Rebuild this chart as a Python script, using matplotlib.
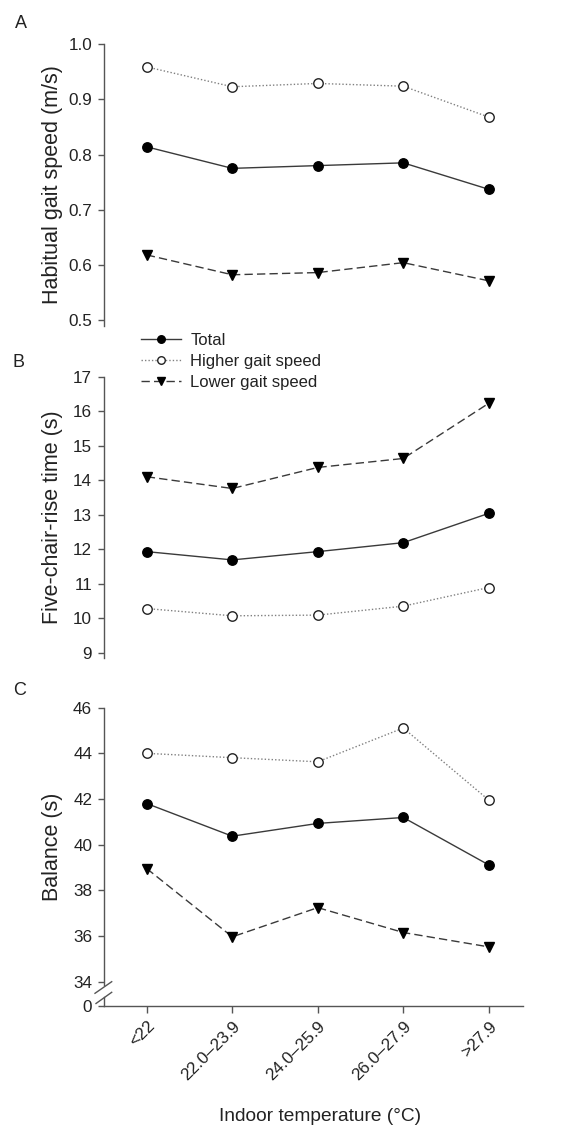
import matplotlib
matplotlib.use("Agg")
import matplotlib.pyplot as plt
from matplotlib.lines import Line2D

plt.rcParams['font.family'] = ['Liberation Sans', 'DejaVu Sans']

categories = ['<22', '22.0\u201323.9', '24.0\u201325.9', '26.0\u201327.9', '>27.9']
series_names = ['Total', 'Higher gait speed', 'Lower gait speed']

gait_total = [0.814, 0.775, 0.780, 0.785, 0.737]
gait_higher = [0.959, 0.923, 0.929, 0.924, 0.868]
gait_lower = [0.618, 0.582, 0.586, 0.604, 0.571]

chair_total = [11.93, 11.69, 11.93, 12.19, 13.04]
chair_higher = [10.28, 10.07, 10.09, 10.35, 10.89]
chair_lower = [14.10, 13.76, 14.37, 14.63, 16.23]

bal_total = [41.80, 40.37, 40.93, 41.19, 39.11]
bal_higher = [44.00, 43.81, 43.63, 45.11, 41.95]
bal_lower = [38.95, 35.96, 37.24, 36.15, 35.52]

gait_ticks = [0.5, 0.6, 0.7, 0.8, 0.9, 1.0]
chair_ticks = [9, 10, 11, 12, 13, 14, 15, 16, 17]
bal_ticks = [34, 36, 38, 40, 42, 44, 46]

W, H = 587, 1126
fig = plt.figure(figsize=(W / 100, H / 100), dpi=100)

def fx(px):
    return px / W

def fy(py):
    return 1 - py / H

left_px, right_px = 104, 523
ax_w = fx(right_px - left_px)

def make_ax(top_px, bot_px):
    return fig.add_axes([fx(left_px), fy(bot_px), ax_w, (bot_px - top_px) / H])

axA = make_ax(44.3, 325.5)
axB = make_ax(376.7, 657.9)
axC = make_ax(707.7, 985.0)
axC0 = make_ax(997.0, 1006.0)

spine_col = '#555555'
line_col = '#3a3a3a'
dot_col = '#808080'
text_col = '#222222'
x = list(range(len(categories)))

styles = [
    dict(color=line_col, lw=1.0, ls='-', marker='o', ms=6.8, mfc='black', mec='black'),
    dict(color=dot_col, lw=1.0, ls=(0, (1, 1.5)), marker='o', ms=6.8, mfc='white', mec='#222222', mew=1.0),
    dict(color=line_col, lw=1.0, ls=(0, (6, 3)), marker='v', ms=6.8, mfc='black', mec='black'),
]

def style_ax(ax, ticks, ylim, ylabel, fmt=None):
    for s in ['top', 'right', 'bottom']:
        ax.spines[s].set_visible(False)
    ax.spines['left'].set_color(spine_col)
    ax.spines['left'].set_linewidth(1.0)
    ax.set_xlim(-0.5, 4.4)
    ax.set_ylim(*ylim)
    ax.set_yticks(ticks)
    if fmt:
        ax.set_yticklabels([fmt.format(t) for t in ticks])
    ax.set_xticks([])
    ax.tick_params(axis='y', direction='out', length=4, width=1.0, color=spine_col,
                   labelsize=12.3, labelcolor=text_col, pad=4.5)
    ax.set_ylabel(ylabel, fontsize=15.5, color=text_col)
    ax.yaxis.set_label_coords(-0.098, 0.5)
    ax.patch.set_alpha(0)

for ax, data in [(axA, (gait_total, gait_higher, gait_lower)),
                 (axB, (chair_total, chair_higher, chair_lower)),
                 (axC, (bal_total, bal_higher, bal_lower))]:
    for vals, st, name in zip(data, styles, series_names):
        ax.plot(x, vals, label=name, clip_on=False, **st)

style_ax(axA, gait_ticks, (0.49, 1.0), 'Habitual gait speed (m/s)', '{:.1f}')
style_ax(axB, chair_ticks, (8.85, 17), 'Five-chair-rise time (s)')
style_ax(axC, bal_ticks, (33.85, 46), 'Balance (s)')

# bottom broken segment with zero
for s in ['top', 'right']:
    axC0.spines[s].set_visible(False)
for s in ['left', 'bottom']:
    axC0.spines[s].set_color(spine_col)
    axC0.spines[s].set_linewidth(1.0)
axC0.set_xlim(-0.5, 4.4)
axC0.set_ylim(0, 1)
axC0.set_yticks([0])
axC0.set_yticklabels(['0'])
axC0.set_xticks(x)
axC0.set_xticklabels(categories, rotation=45, ha='right', va='top', rotation_mode='anchor')
axC0.tick_params(axis='y', direction='out', length=4, width=1.0, color=spine_col,
                 labelsize=12.3, labelcolor=text_col, pad=4.5)
axC0.tick_params(axis='x', direction='out', length=5, width=1.0, color=spine_col,
                 labelsize=12.3, labelcolor=text_col, pad=4)
axC0.patch.set_alpha(0)

# axis break marks
for (x0, y0, x1, y1) in [(95, 993.3, 111.7, 981.7), (96, 1003.5, 111.7, 992.3)]:
    fig.add_artist(Line2D([fx(x0), fx(x1)], [fy(y0), fy(y1)], color=spine_col, lw=1.0))

# panel letters
for lab, px, py in [('A', 15, 28), ('B', 12, 367), ('C', 13, 695)]:
    fig.text(fx(px), fy(py), lab, fontsize=13, color=text_col, ha='left', va='baseline')

fig.text(fx(320), fy(1121), 'Indoor temperature (\u00b0C)', fontsize=13.8, color=text_col,
         ha='center', va='baseline')

leg = axB.legend(loc='upper left', bbox_to_anchor=(fx(141), fy(333)),
                 bbox_transform=fig.transFigure, frameon=False, fontsize=12,
                 handlelength=2.4, handletextpad=0.55, labelspacing=0.36,
                 borderpad=0, borderaxespad=0, numpoints=1, markerscale=0.8)
for t in leg.get_texts():
    t.set_color(text_col)

fig.savefig('out.png', dpi=100)
